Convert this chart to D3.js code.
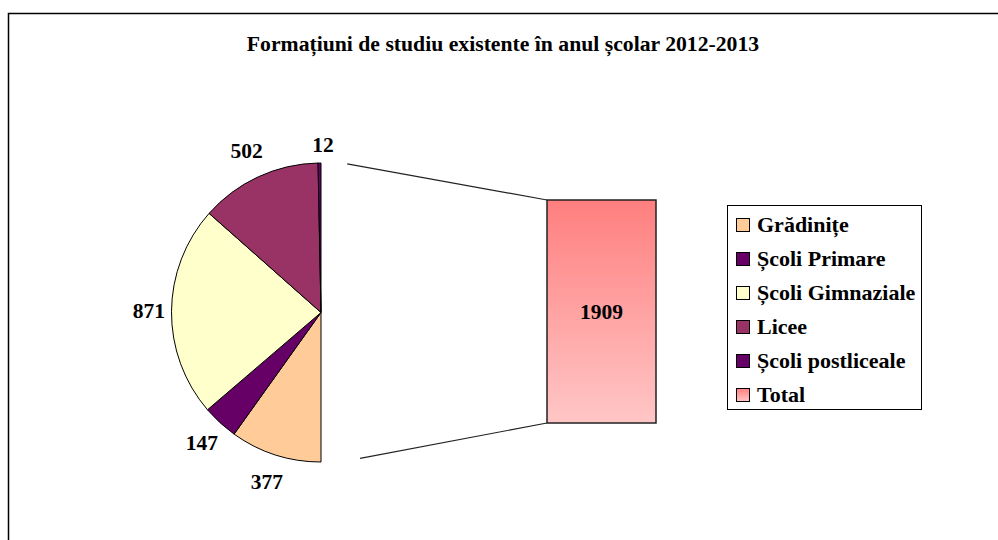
<!DOCTYPE html>
<html><head><meta charset="utf-8">
<script src="https://cdn.jsdelivr.net/npm/d3@7"></script>
<style>body{margin:0;background:#fff}svg{display:block}text{font-family:"Liberation Serif","Times New Roman",serif;font-weight:bold;fill:#000}</style>
</head><body><svg id="c" width="998" height="540"></svg>
<script>
const categories = ["Grădinițe","Școli Primare","Școli Gimnaziale","Licee","Școli postliceale","Total"];
const values = [377,147,871,502,12,1909];
const colors = ["#FFCC99","#660066","#FFFFCC","#993366","#660066","#FF9999"];
const title = "Formațiuni de studiu existente în anul școlar 2012-2013";

const svg = d3.select("#c");
const defs = svg.append("defs");
const g1 = defs.append("linearGradient").attr("id","bg").attr("x1",0).attr("y1",0).attr("x2",0).attr("y2",1);
g1.append("stop").attr("offset","0").attr("stop-color","#FF7F7F");
g1.append("stop").attr("offset","1").attr("stop-color","#FFC6C6");

// chart border
svg.append("path").attr("d","M8.5,540 V13.5 H998").attr("fill","none").attr("stroke","#000").attr("stroke-width",1.5);

svg.append("text").attr("x",503).attr("y",44).attr("text-anchor","middle").attr("dominant-baseline","central")
  .attr("font-size",21.7).text(title);

const cx=321, cy=312.5, R=149.5;
const pie = d3.pie().sort(null).startAngle(Math.PI).endAngle(3*Math.PI);
const arcs = pie(values);
const arc = d3.arc().innerRadius(0).outerRadius(R);
const pg = svg.append("g").attr("transform",`translate(${cx},${cy})`);
pg.selectAll("path").data(arcs.slice(0,5)).join("path")
  .attr("d",arc).attr("fill",(d,i)=>colors[i]).attr("stroke","#000").attr("stroke-width",1);

// labels (outside end)
function labPos(d){
  const a=(d.startAngle+d.endAngle)/2;
  const r = 172 + 6*Math.abs(Math.cos(a));
  let x = Math.sin(a)*r, y = -Math.cos(a)*r;
  if(d.index===4){ x = 2; y = -167.5; }
  return [x,y];
}
pg.selectAll("text.lab").data(arcs.slice(0,5)).join("text").attr("class","lab")
  .attr("x",d=>labPos(d)[0]).attr("y",d=>labPos(d)[1])
  .attr("text-anchor","middle").attr("dominant-baseline","central").attr("font-size",21.5)
  .text(d=>d.data);

// bar of pie
const bx=547, bw=109, bTop=200, bBot=423;
const y = d3.scaleLinear().domain([0,values[5]]).range([bBot,bTop]);
svg.append("rect").attr("x",bx).attr("y",y(values[5])).attr("width",bw).attr("height",y(0)-y(values[5]))
  .attr("fill","url(#bg)").attr("stroke","#222").attr("stroke-width",1.5);
svg.append("text").attr("x",bx+bw/2).attr("y",(y(0)+y(values[5]))/2).attr("text-anchor","middle")
  .attr("dominant-baseline","central").attr("font-size",21.5).text(values[5]);

// connectors
const a1 = 10*Math.PI/180, a2 = 165*Math.PI/180;
const R2 = 151;
svg.append("line").attr("x1",cx+Math.sin(a1)*R2).attr("y1",cy-Math.cos(a1)*R2).attr("x2",bx).attr("y2",y(values[5]))
  .attr("stroke","#222").attr("stroke-width",1.2);
svg.append("line").attr("x1",cx+Math.sin(a2)*R2).attr("y1",cy-Math.cos(a2)*R2).attr("x2",bx).attr("y2",y(0))
  .attr("stroke","#222").attr("stroke-width",1.2);

// legend
const lg = svg.append("g");
lg.append("rect").attr("x",727.5).attr("y",205.5).attr("width",194).attr("height",204).attr("fill","#fff").attr("stroke","#000").attr("stroke-width",1);
const g2 = defs.append("linearGradient").attr("id","lgT").attr("x1",0).attr("y1",0).attr("x2",0).attr("y2",1);
g2.append("stop").attr("offset","0").attr("stop-color","#FF8080");
g2.append("stop").attr("offset","1").attr("stop-color","#FFC6C6");
categories.forEach((c,i)=>{
  const yy = 224 + i*34;
  lg.append("rect").attr("x",736.5).attr("y",yy-5.5).attr("width",13).attr("height",13)
    .attr("fill", i===5?"url(#lgT)":colors[i]).attr("stroke","#000").attr("stroke-width",1);
  lg.append("text").attr("x",757).attr("y",yy).attr("dominant-baseline","central").attr("font-size",22).text(c);
});
</script></body></html>
